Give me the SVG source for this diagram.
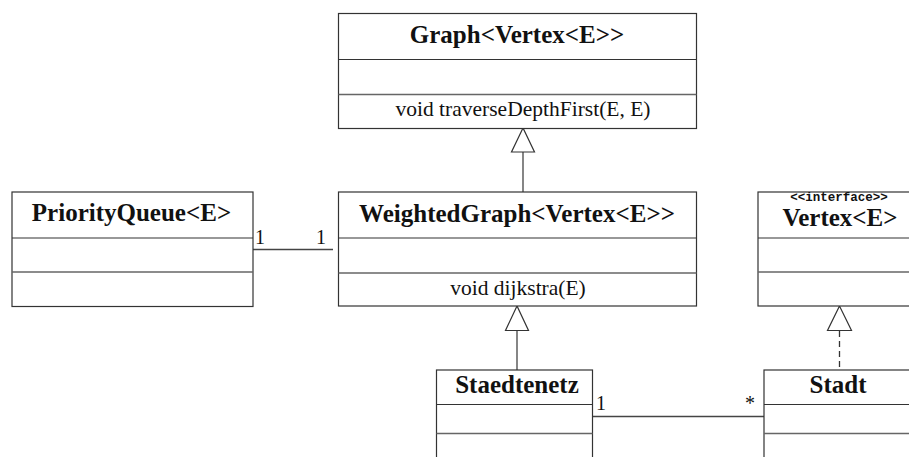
<svg xmlns="http://www.w3.org/2000/svg" width="909" height="457" viewBox="0 0 909 457">
<style>
.box{fill:#fff;stroke:#333;stroke-width:1.2}
.div{stroke:#333;stroke-width:1.2}
.div2{stroke:#666;stroke-width:1.4}
.title{font-family:"Liberation Serif",serif;font-weight:bold;font-size:25px;fill:#111;text-anchor:middle}
.meth{font-family:"Liberation Serif",serif;font-size:21.5px;fill:#111;text-anchor:middle}
.ster{font-family:"Liberation Mono",monospace;font-weight:bold;font-size:12.5px;fill:#111;text-anchor:middle}
.mult{font-family:"Liberation Serif",serif;font-size:20px;fill:#111}
.line{stroke:#444;stroke-width:1.3;fill:none}
.dash{stroke:#333;stroke-width:1.3;fill:none;stroke-dasharray:6 4}
.tri{fill:#fff;stroke:#333;stroke-width:1.2}
</style>
<g id="connectors">
  <line class="line" x1="523" y1="152" x2="523" y2="192"/>
  <polygon class="tri" points="523,128 511.5,152 534.5,152"/>
  <line class="line" x1="517" y1="330" x2="517" y2="370"/>
  <polygon class="tri" points="517,306 505.5,330.5 528.5,330.5"/>
  <line class="dash" x1="839.5" y1="331" x2="839.5" y2="370"/>
  <polygon class="tri" points="839.5,306 827.5,330.5 851.5,330.5"/>
  <line class="line" x1="253" y1="249.5" x2="333" y2="249.5"/>
  <line class="line" x1="592" y1="416.5" x2="764" y2="416.5"/>
  <text class="mult" x="255" y="244">1</text>
  <text class="mult" x="316" y="244">1</text>
  <text class="mult" x="596" y="410">1</text>
  <text class="mult" x="745" y="410">*</text>
</g>
<g id="Graph">
  <rect class="box" x="338.5" y="13.5" width="358" height="115"/>
  <line class="div" x1="338.5" y1="59.5" x2="696.5" y2="59.5"/>
  <line class="div2" x1="338.5" y1="94.5" x2="696.5" y2="94.5"/>
  <text class="title" x="517" y="43">Graph&lt;Vertex&lt;E&gt;&gt;</text>
  <text class="meth" x="523" y="116">void traverseDepthFirst(E, E)</text>
</g>
<g id="PriorityQueue">
  <rect class="box" x="12" y="192" width="241" height="114.5"/>
  <line class="div" x1="12" y1="238" x2="253" y2="238"/>
  <line class="div2" x1="12" y1="272" x2="253" y2="272"/>
  <text class="title" x="131.5" y="221">PriorityQueue&lt;E&gt;</text>
</g>
<g id="WeightedGraph">
  <rect class="box" x="338.5" y="192" width="358" height="114"/>
  <line class="div" x1="338.5" y1="238" x2="696.5" y2="238"/>
  <line class="div2" x1="338.5" y1="273" x2="696.5" y2="273"/>
  <text class="title" x="517" y="222">WeightedGraph&lt;Vertex&lt;E&gt;&gt;</text>
  <text class="meth" x="518" y="295">void dijkstra(E)</text>
</g>
<g id="Vertex">
  <rect class="box" x="758" y="192" width="164" height="114"/>
  <line class="div" x1="758" y1="238" x2="922" y2="238"/>
  <line class="div2" x1="758" y1="272" x2="922" y2="272"/>
  <text class="ster" x="839" y="201">&lt;&lt;interface&gt;&gt;</text>
  <text class="title" x="840" y="226">Vertex&lt;E&gt;</text>
</g>
<g id="Staedtenetz">
  <rect class="box" x="436.5" y="370" width="156" height="100"/>
  <line class="div" x1="436.5" y1="404.5" x2="592.5" y2="404.5"/>
  <line class="div2" x1="436.5" y1="433.5" x2="592.5" y2="433.5"/>
  <text class="title" x="517" y="393">Staedtenetz</text>
</g>
<g id="Stadt">
  <rect class="box" x="764" y="370" width="150" height="100"/>
  <line class="div" x1="764" y1="404.5" x2="914" y2="404.5"/>
  <line class="div2" x1="764" y1="433.5" x2="914" y2="433.5"/>
  <text class="title" x="838" y="393">Stadt</text>
</g>
</svg>
